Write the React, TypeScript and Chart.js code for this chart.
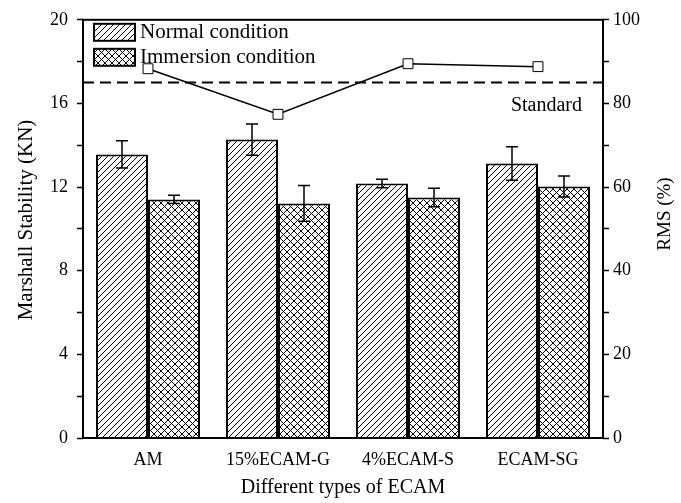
import React, { useEffect, useRef } from 'react';
import { Chart, registerables } from 'chart.js';

Chart.register(...registerables);

const categories = ['AM', '15%ECAM-G', '4%ECAM-S', 'ECAM-SG'];
const normalValues = [13.56, 14.27, 12.17, 13.13];
const normalErrors = [0.65, 0.75, 0.2, 0.8];
const immersionValues = [11.41, 11.22, 11.5, 12.03];
const immersionErrors = [0.2, 0.85, 0.44, 0.5];
const rmsValues = [88.3, 77.4, 89.5, 88.8];
const standardRms = 85;
const leftMajorTicks = [0, 4, 8, 12, 16, 20];
const rightMajorTicks = [0, 20, 40, 60, 80, 100];
const seriesLabels = ['Normal condition', 'Immersion condition'];

const FONT = '"Liberation Serif", "Times New Roman", serif';

function makePattern(kind: 'diag' | 'cross'): CanvasPattern | string {
  const s = kind === 'diag' ? 6 : 7;
  const c = document.createElement('canvas');
  c.width = s;
  c.height = s;
  const ctx = c.getContext('2d');
  if (!ctx) return '#fff';
  ctx.fillStyle = '#fff';
  ctx.fillRect(0, 0, s, s);
  ctx.strokeStyle = '#000';
  ctx.lineWidth = 1;
  const fwd = () => {
    ctx.beginPath();
    ctx.moveTo(-1, s + 1);
    ctx.lineTo(s + 1, -1);
    ctx.moveTo(-1, 1);
    ctx.lineTo(1, -1);
    ctx.moveTo(s - 1, s + 1);
    ctx.lineTo(s + 1, s - 1);
    ctx.stroke();
  };
  const back = () => {
    ctx.beginPath();
    ctx.moveTo(-1, -1);
    ctx.lineTo(s + 1, s + 1);
    ctx.moveTo(s - 1, -1);
    ctx.lineTo(s + 1, 1);
    ctx.moveTo(-1, s - 1);
    ctx.lineTo(1, s + 1);
    ctx.stroke();
  };
  fwd();
  if (kind === 'cross') back();
  const p = ctx.createPattern(c, 'repeat');
  return p || '#fff';
}

export default function App() {
  const ref = useRef<HTMLCanvasElement | null>(null);

  useEffect(() => {
    document.body.style.margin = '0';
    const canvas = ref.current;
    if (!canvas) return;
    const diag = makePattern('diag');
    const cross = makePattern('cross');
    const errs = [normalErrors, immersionErrors];
    const vals = [normalValues, immersionValues];

    const decorPlugin = {
      id: 'decor',
      beforeDatasetsDraw(chart: any) {
        const ctx = chart.ctx;
        const a = chart.chartArea;
        const y1 = chart.scales.y1;
        const yy = y1.getPixelForValue(standardRms);
        ctx.save();
        ctx.strokeStyle = '#000';
        ctx.lineWidth = 2;
        ctx.setLineDash([11, 6]);
        ctx.beginPath();
        ctx.moveTo(a.left, yy);
        ctx.lineTo(a.right, yy);
        ctx.stroke();
        ctx.setLineDash([]);
        ctx.fillStyle = '#000';
        ctx.font = `20px ${FONT}`;
        ctx.textAlign = 'right';
        ctx.textBaseline = 'alphabetic';
        ctx.fillText('Standard', a.right - 21, yy + 28);
        ctx.restore();
      },
      afterDatasetsDraw(chart: any) {
        const ctx = chart.ctx;
        const a = chart.chartArea;
        const y = chart.scales.y;
        ctx.save();
        ctx.strokeStyle = '#000';
        ctx.lineWidth = 1.5;
        for (let d = 0; d < 2; d++) {
          const meta = chart.getDatasetMeta(d);
          meta.data.forEach((el: any, i: number) => {
            const top = y.getPixelForValue(vals[d][i] + errs[d][i]);
            const bot = y.getPixelForValue(vals[d][i] - errs[d][i]);
            ctx.beginPath();
            ctx.moveTo(el.x, top);
            ctx.lineTo(el.x, bot);
            ctx.moveTo(el.x - 6, top);
            ctx.lineTo(el.x + 6, top);
            ctx.moveTo(el.x - 6, bot);
            ctx.lineTo(el.x + 6, bot);
            ctx.stroke();
          });
        }
        ctx.lineWidth = 2;
        ctx.strokeRect(a.left, a.top, a.right - a.left, a.bottom - a.top);
        ctx.restore();
      },
      afterDraw(chart: any) {
        const ctx = chart.ctx;
        const a = chart.chartArea;
        ctx.save();
        ctx.fillStyle = '#000';
        ctx.font = `21px ${FONT}`;
        const fills = [diag, cross];
        for (let i = 0; i < 2; i++) {
          const bx = a.left + 11;
          const by = a.top + 4 + i * 25;
          ctx.fillStyle = fills[i] as any;
          ctx.fillRect(bx, by, 41, 17);
          ctx.strokeStyle = '#000';
          ctx.lineWidth = 2;
          ctx.strokeRect(bx, by, 41, 17);
          ctx.fillStyle = '#000';
          ctx.textAlign = 'left';
          ctx.textBaseline = 'alphabetic';
          ctx.fillText(seriesLabels[i], bx + 46, by + 14);
        }
        ctx.textAlign = 'center';
        ctx.textBaseline = 'middle';
        ctx.font = `20px ${FONT}`;
        ctx.fillText('Different types of ECAM', (a.left + a.right) / 2, 488);
        ctx.save();
        ctx.font = `21px ${FONT}`;
        ctx.translate(26, 220);
        ctx.rotate(-Math.PI / 2);
        ctx.fillText('Marshall Stability (KN)', 0, 0);
        ctx.restore();
        ctx.save();
        ctx.font = `19px ${FONT}`;
        ctx.translate(665, 214);
        ctx.rotate(-Math.PI / 2);
        ctx.fillText('RMS (%)', 0, 0);
        ctx.restore();
        ctx.restore();
      },
    };

    const tickFont = { family: FONT, size: 18 };

    const chart = new Chart(canvas, {
      type: 'bar',
      data: {
        labels: categories,
        datasets: [
          {
            type: 'bar',
            label: seriesLabels[0],
            data: normalValues,
            backgroundColor: diag as any,
            borderColor: '#000',
            borderWidth: 2,
            yAxisID: 'y',
            order: 2,
          },
          {
            type: 'bar',
            label: seriesLabels[1],
            data: immersionValues,
            backgroundColor: cross as any,
            borderColor: '#000',
            borderWidth: 2,
            yAxisID: 'y',
            order: 2,
          },
          {
            type: 'line',
            label: 'RMS',
            data: rmsValues,
            borderColor: '#000',
            borderWidth: 1.5,
            pointStyle: 'rect',
            pointRadius: 7,
            pointBackgroundColor: '#fff',
            pointBorderColor: '#000',
            pointBorderWidth: 1,
            yAxisID: 'y1',
            order: 1,
          } as any,
        ],
      },
      options: {
        responsive: false,
        animation: false,
        layout: { padding: { top: 19, left: 0, right: 0, bottom: 0 } },
        plugins: { legend: { display: false }, tooltip: { enabled: false } },
        datasets: { bar: { categoryPercentage: 0.8, barPercentage: 1 } },
        scales: {
          x: {
            type: 'category',
            position: 'bottom',
            offset: true,
            afterFit: (scale: any) => {
              scale.height = 65;
            },
            grid: { drawOnChartArea: false, drawTicks: false },
            border: { display: false },
            ticks: {
              padding: 11,
              color: '#000',
              font: tickFont,
              maxRotation: 0,
              autoSkip: false,
            },
          },
          y: {
            type: 'linear',
            position: 'left',
            min: 0,
            max: 20,
            afterFit: (scale: any) => {
              scale.width = 83;
            },
            grid: {
              drawOnChartArea: false,
              tickLength: 6,
              tickColor: '#000',
              tickWidth: 1.5,
            },
            border: { display: false },
            ticks: {
              stepSize: 2,
              padding: 9,
              color: '#000',
              font: tickFont,
              callback: (v: any) => (leftMajorTicks.includes(Number(v)) ? String(v) : ''),
            },
          },
          y1: {
            type: 'linear',
            position: 'right',
            min: 0,
            max: 100,
            afterFit: (scale: any) => {
              scale.width = 78;
            },
            grid: {
              drawOnChartArea: false,
              tickLength: 6,
              tickColor: '#000',
              tickWidth: 1.5,
            },
            border: { display: false },
            ticks: {
              stepSize: 10,
              padding: 4,
              color: '#000',
              font: tickFont,
              callback: (v: any) => (rightMajorTicks.includes(Number(v)) ? String(v) : ''),
            },
          },
        },
      } as any,
      plugins: [decorPlugin],
    });

    return () => chart.destroy();
  }, []);

  return (
    <div style={{ width: 681, height: 503, background: '#fff' }}>
      <canvas ref={ref} width={681} height={503} style={{ display: 'block', width: 681, height: 503 }} />
    </div>
  );
}
